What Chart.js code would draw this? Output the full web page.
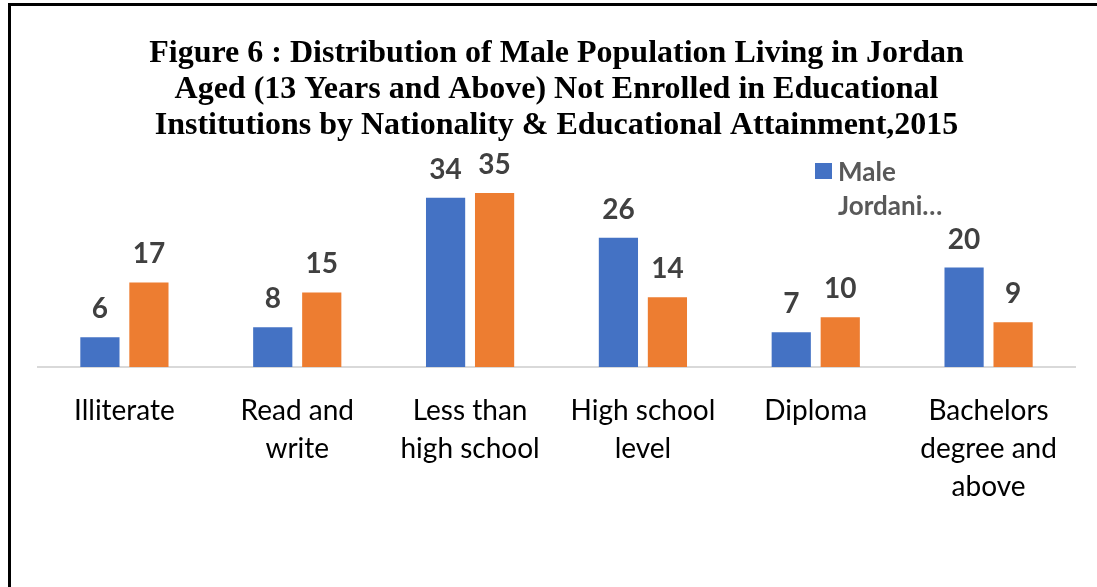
<!DOCTYPE html>
<html>
<head>
<meta charset="utf-8">
<script src="https://cdn.jsdelivr.net/npm/chart.js@4.4.1/dist/chart.umd.min.js"></script>
<style>
  html, body { margin: 0; padding: 0; background: #fff; overflow: hidden; }
  body { width: 1097px; height: 587px; position: relative; }
  #wrap { position: absolute; left: 0; top: 0; width: 1118px; height: 587px; }
  #frame { position: absolute; left: 8px; top: 3px; width: 1200px; height: 700px;
           border-top: 3px solid #000; border-left: 3px solid #000; pointer-events: none; }
</style>
</head>
<body>
<div id="wrap"><canvas id="myChart" width="1118" height="587"></canvas></div>
<div id="frame"></div>
<script>
const categories = [
  ['Illiterate'],
  ['Read and', 'write'],
  ['Less than', 'high school'],
  ['High school', 'level'],
  ['Diploma'],
  ['Bachelors', 'degree and', 'above']
];
const jordanian = [6, 8, 34, 26, 7, 20];
const nonJordanian = [17, 15, 35, 14, 10, 9];
const titleLines = [
  'Figure 6 : Distribution of Male Population Living in Jordan',
  'Aged (13 Years and Above) Not Enrolled in Educational',
  'Institutions by Nationality & Educational Attainment,2015'
];

// value labels above each bar
const barLabels = {
  id: 'barLabels',
  afterDatasetsDraw(chart) {
    const ctx = chart.ctx;
    ctx.save();
    ctx.font = 'bold 28px Lato';
    ctx.fillStyle = '#404040';
    ctx.textAlign = 'center';
    ctx.textBaseline = 'alphabetic';
    chart.data.datasets.forEach((ds, i) => {
      chart.getDatasetMeta(i).data.forEach((bar, j) => {
        ctx.fillText(ds.data[j], bar.x, bar.y - 19);
      });
    });
    ctx.restore();
  }
};

// legend as in the picture: one entry, wrapped and cut off
const sideLegend = {
  id: 'sideLegend',
  afterDraw(chart) {
    const ctx = chart.ctx;
    const ds = chart.data.datasets[0];
    ctx.save();
    ctx.fillStyle = ds.backgroundColor;
    ctx.fillRect(815, 163, 17, 16);
    ctx.font = 'bold 26px Lato';
    ctx.fillStyle = '#595959';
    ctx.textBaseline = 'alphabetic';
    ctx.fillText('Male', 838, 181);
    ctx.fillText('Jordani\u2026', 838, 215);
    ctx.restore();
  }
};

new Chart(document.getElementById('myChart').getContext('2d'), {
  type: 'bar',
  data: {
    labels: categories,
    datasets: [{
      label: 'Male Jordanian',
      data: jordanian,
      backgroundColor: '#4472C4',
      categoryPercentage: 0.567,
      barPercentage: 0.8
    }, {
      label: 'Male Non-Jordanian',
      data: nonJordanian,
      backgroundColor: '#ED7D31',
      categoryPercentage: 0.567,
      barPercentage: 0.8
    }]
  },
  options: {
    responsive: false,
    animation: false,
    layout: { padding: { left: 38, right: 43, top: 0, bottom: 56 } },
    plugins: {
      legend: { display: false },
      tooltip: { enabled: false },
      title: {
        display: true,
        text: titleLines,
        color: '#000',
        font: { family: 'Liberation Serif', size: 32, weight: 'bold', lineHeight: '36px' },
        padding: { top: 36, bottom: 24 }
      }
    },
    scales: {
      x: {
        grid: { display: false, drawTicks: false },
        border: { display: true, color: '#d9d9d9', width: 2 },
        ticks: {
          color: '#000',
          padding: 25,
          maxRotation: 0,
          autoSkip: false,
          font: { family: 'Lato', size: 28, lineHeight: '38px' }
        }
      },
      y: {
        display: false,
        min: 0,
        max: 40
      }
    }
  },
  plugins: [barLabels, sideLegend]
});
</script>
</body>
</html>
